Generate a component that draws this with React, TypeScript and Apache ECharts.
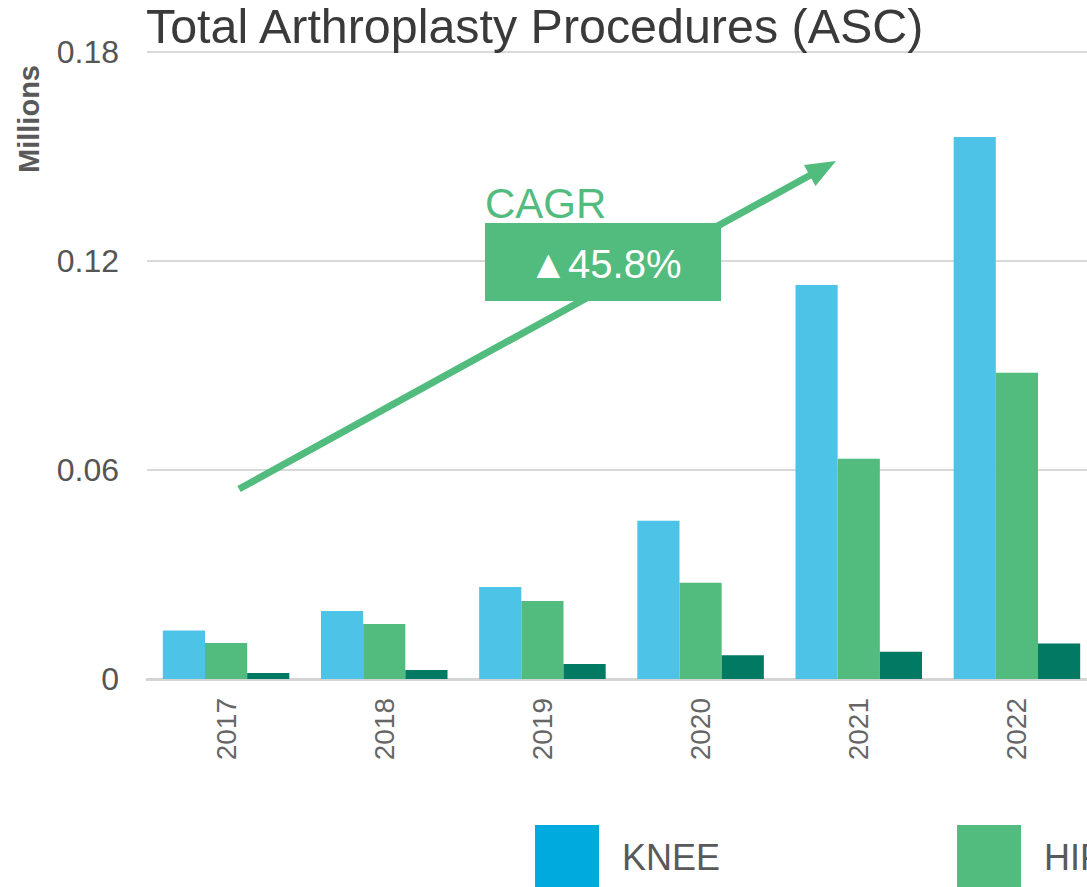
import React, { useEffect, useRef } from "react";
import * as echarts from "echarts";

const years = ["2017", "2018", "2019", "2020", "2021", "2022"];
const knee = [0.0139, 0.0195, 0.0264, 0.0454, 0.1131, 0.1556];
const hip = [0.0103, 0.0158, 0.0224, 0.0276, 0.0632, 0.0879];
const shoulder = [0.0017, 0.0026, 0.0043, 0.0068, 0.0078, 0.0102];
const seriesNames = ["KNEE", "HIP", "SHOULDER"];
const cagrLabel = "CAGR";
const cagrValue = "▲45.8%";

const FONT = "'Liberation Sans', Arial, sans-serif";

export default function App() {
  const ref = useRef<HTMLDivElement>(null);
  useEffect(() => {
    if (!ref.current) return;
    const chart = echarts.init(ref.current, undefined, { renderer: "svg" });
    // arrow geometry
    const x1 = 239, y1 = 489, tx = 836, ty = 161;
    const dx = tx - x1, dy = ty - y1;
    const len = Math.sqrt(dx * dx + dy * dy);
    const ux = dx / len, uy = dy / len;
    const nx = -uy, ny = ux;
    const headL = 30, headW = 12;
    const bx = tx - headL * ux, by = ty - headL * uy;
    chart.setOption({
      animation: false,
      textStyle: { fontFamily: FONT },
      title: {
        text: "Total Arthroplasty Procedures (ASC)",
        left: 146,
        top: 2,
        padding: 0,
        textStyle: { fontSize: 48.4, fontWeight: "normal", color: "#3A3A3A", fontFamily: FONT },
      },
      grid: { left: 147, right: 4, top: 52, bottom: 208, containLabel: false },
      legend: {
        left: 535,
        top: 825,
        width: 1600,
        padding: 0,
        itemWidth: 64,
        itemHeight: 64,
        itemGap: 237,
        icon: "rect",
        textStyle: {
          fontSize: 36,
          lineHeight: 36,
          color: "#595959",
          padding: [0, 0, 0, 18],
          fontFamily: FONT,
        },
        data: [
          { name: seriesNames[0], itemStyle: { color: "#00AADE", opacity: 1 } },
          { name: seriesNames[1], itemStyle: { color: "#52BC7E" } },
          { name: seriesNames[2], itemStyle: { color: "#007A63" } },
        ],
      },
      xAxis: {
        type: "category",
        data: years,
        axisTick: { show: false },
        axisLine: { show: true, lineStyle: { color: "#D4D4D4", width: 3 } },
        axisLabel: { rotate: 90, fontSize: 28, color: "#666666", margin: 19, fontFamily: FONT },
      },
      yAxis: {
        type: "value",
        min: 0,
        max: 0.18,
        interval: 0.06,
        axisLine: { show: false },
        axisTick: { show: false },
        splitLine: { lineStyle: { color: "#D9D9D9", width: 2 } },
        axisLabel: {
          fontSize: 32,
          color: "#555555",
          margin: 28,
          fontFamily: FONT,
          formatter: (v: number) => (v === 0 ? "0" : String(Number(v.toFixed(2)))),
        },
      },
      series: [
        {
          name: seriesNames[0],
          type: "bar",
          data: knee,
          barGap: "0%",
          barCategoryGap: "20%",
          itemStyle: { color: "#4DC3E8" },
        },
        {
          name: seriesNames[1],
          type: "bar",
          data: hip,
          barGap: "0%",
          barCategoryGap: "20%",
          itemStyle: { color: "#52BC7E" },
        },
        {
          name: seriesNames[2],
          type: "bar",
          data: shoulder,
          barGap: "0%",
          barCategoryGap: "20%",
          itemStyle: { color: "#007A63" },
        },
      ],
      graphic: [
        {
          type: "text",
          x: 29,
          y: 119,
          rotation: Math.PI / 2,
          style: {
            text: "Millions",
            fontSize: 29,
            fontWeight: "bold",
            fill: "#595959",
            fontFamily: FONT,
            textAlign: "center",
            textVerticalAlign: "middle",
          },
        },
        {
          type: "line",
          shape: { x1: x1, y1: y1, x2: bx + 4 * ux, y2: by + 4 * uy },
          style: { stroke: "#52BC7E", lineWidth: 7 },
          z: 10,
        },
        {
          type: "polygon",
          shape: {
            points: [
              [tx, ty],
              [bx + headW * nx, by + headW * ny],
              [bx - headW * nx, by - headW * ny],
            ],
          },
          style: { fill: "#52BC7E" },
          z: 10,
        },
        {
          type: "rect",
          shape: { x: 485, y: 223, width: 236, height: 78 },
          style: { fill: "#52BC7E" },
          z: 11,
        },
        {
          type: "text",
          x: 605,
          y: 264,
          z: 12,
          style: {
            text: cagrValue,
            fontSize: 40,
            fill: "#FFFFFF",
            fontFamily: FONT,
            textAlign: "center",
            textVerticalAlign: "middle",
          },
        },
        {
          type: "text",
          x: 485,
          y: 203,
          z: 12,
          style: {
            text: cagrLabel,
            fontSize: 42,
            fill: "#52BC7E",
            fontFamily: FONT,
            textAlign: "left",
            textVerticalAlign: "middle",
          },
        },
      ],
    });
    return () => chart.dispose();
  }, []);
  return (
    <div
      style={{
        position: "fixed",
        left: 0,
        top: 0,
        width: 1087,
        height: 887,
        overflow: "hidden",
        background: "#fff",
      }}
    >
      <div ref={ref} style={{ width: 1100, height: 887 }} />
    </div>
  );
}
